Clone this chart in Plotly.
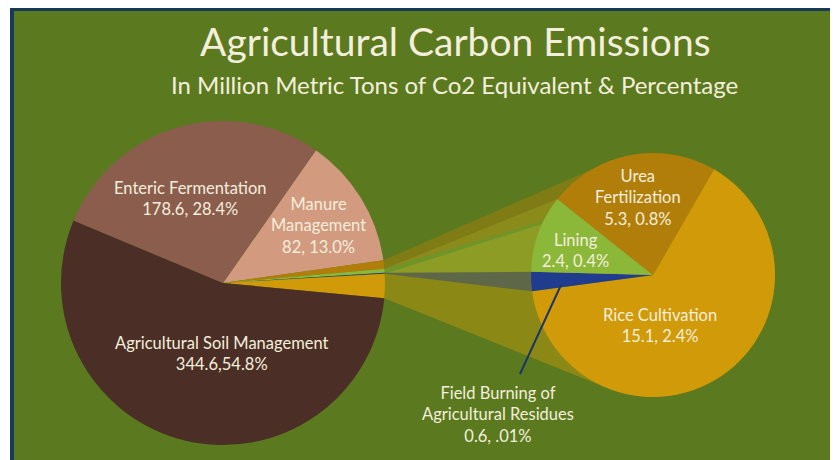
import numpy as np
import plotly.graph_objects as go

# ---------------- data ----------------
title_text = "Agricultural Carbon Emissions"
subtitle_text = "In Million Metric Tons of Co2 Equivalent & Percentage"

main_categories = ["Manure Management", "Agricultural Soil Management", "Enteric Fermentation"]
main_values = [82, 344.6, 178.6]
main_value_labels = ["82, 13.0%", "344.6,54.8%", "178.6, 28.4%"]

sub_categories = ["Rice Cultivation", "Field Burning of Agricultural Residues", "Lining", "Urea Fertilization"]
sub_values = [15.1, 0.6, 2.4, 5.3]
sub_value_labels = ["15.1, 2.4%", "0.6, .01%", "2.4, 0.4%", "5.3, 0.8%"]

# ---------------- style ----------------
# window is 838x460; the page body has an 8px margin, so the figure is 830x452
WIN_W, WIN_H = 838, 460
OFF = 8
W, H = WIN_W - OFF, WIN_H - OFF
BG = "#5b7a1f"
FRAME = "#163a58"
TXT = "#f4eedc"
FONT = "Lato"
colors = {
    "Manure Management": "#d29a7f",
    "Agricultural Soil Management": "#4b2e25",
    "Enteric Fermentation": "#8b5d4d",
    "Rice Cultivation": "#d19a08",
    "Field Burning of Agricultural Residues": "#1f3c8e",
    "Lining": "#8cb83a",
    "Urea Fertilization": "#b27e0a",
}

# pie geometry (window pixels)
L_CX, L_CY, L_R = 223, 283, 162
R_CX, R_CY, R_R = 653, 275, 122
L_ROT, R_ROT = 35, 30

left_labels = [main_categories[0]] + sub_categories[::-1] + main_categories[1:]
left_values = [main_values[0]] + sub_values[::-1] + main_values[1:]


def px(x):
    return (x - OFF) / W


def py(y):
    return 1 - (y - OFF) / H


def dom(cx, cy, r):
    return dict(x=[px(cx - r), px(cx + r)], y=[py(cy + r), py(cy - r)])


def arc(cx, cy, r, a0, a1, n=40):
    a = np.radians(np.linspace(a0, a1, n))
    return np.column_stack([cx + r * np.sin(a), cy - r * np.cos(a)])


def hull(pts):
    pts = sorted(set(map(tuple, np.round(pts, 3))))
    def cross(o, a, b):
        return (a[0] - o[0]) * (b[1] - o[1]) - (a[1] - o[1]) * (b[0] - o[0])
    lower, upper = [], []
    for p in pts:
        while len(lower) >= 2 and cross(lower[-2], lower[-1], p) <= 0:
            lower.pop()
        lower.append(p)
    for p in reversed(pts):
        while len(upper) >= 2 and cross(upper[-2], upper[-1], p) <= 0:
            upper.pop()
        upper.append(p)
    h = lower[:-1] + upper[:-1]
    h.append(h[0])
    return np.array(h)


def hex_rgba(h, a):
    h = h.lstrip("#")
    return f"rgba({int(h[0:2],16)},{int(h[2:4],16)},{int(h[4:6],16)},{a})"


left_total = sum(left_values)
left_span = {}
c = 0.0
for lab, v in zip(left_labels, left_values):
    left_span[lab] = (L_ROT + c / left_total * 360, L_ROT + (c + v) / left_total * 360)
    c += v
sub_total = sum(sub_values)
right_span = {}
c = 0.0
for lab, v in zip(sub_categories, sub_values):
    right_span[lab] = (R_ROT + c / sub_total * 360, R_ROT + (c + v) / sub_total * 360)
    c += v

fig = go.Figure()

# beams connecting the two pies
for lab in sub_categories:
    la = arc(L_CX, L_CY, L_R, *left_span[lab], n=10)
    ra = arc(R_CX, R_CY, R_R, *right_span[lab], n=120)
    hp = hull(np.vstack([la, ra]))
    fig.add_trace(go.Scatter(
        x=hp[:, 0], y=hp[:, 1], mode="lines", fill="toself",
        fillcolor=hex_rgba(colors[lab], 0.42), line=dict(width=0),
        hoverinfo="skip", showlegend=False))

fig.add_trace(go.Pie(
    labels=left_labels, values=left_values, sort=False, direction="clockwise",
    rotation=L_ROT, domain=dom(L_CX, L_CY, L_R), textinfo="none", hoverinfo="label+value",
    marker=dict(colors=[colors[l] for l in left_labels], line=dict(width=0)),
    showlegend=False))

fig.add_trace(go.Pie(
    labels=sub_categories, values=sub_values, sort=False, direction="clockwise",
    rotation=R_ROT, domain=dom(R_CX, R_CY, R_R), textinfo="none", hoverinfo="label+value",
    marker=dict(colors=[colors[l] for l in sub_categories], line=dict(width=0)),
    showlegend=False))

# labels (window pixel positions of the text block centres)
label_pos = {
    "Agricultural Soil Management": (222, 353, ["Agricultural Soil Management"]),
    "Enteric Fermentation": (190, 199, ["Enteric Fermentation"]),
    "Manure Management": (318, 225, ["Manure", "Management"]),
    "Rice Cultivation": (660, 325, ["Rice Cultivation"]),
    "Lining": (575, 250, ["Lining"]),
    "Urea Fertilization": (638, 197, ["Urea", "Fertilization"]),
    "Field Burning of Agricultural Residues": (498, 414, ["Field Burning of", "Agricultural Residues"]),
}
value_text = dict(zip(main_categories, main_value_labels))
value_text.update(dict(zip(sub_categories, sub_value_labels)))

annotations = []
for lab, (x, y, lines) in label_pos.items():
    annotations.append(dict(
        x=px(x), y=py(y), xref="paper", yref="paper", showarrow=False,
        xanchor="center", yanchor="middle",
        text="<br>".join(lines + [value_text[lab]]), align="center",
        font=dict(family=FONT, size=16.5, color=TXT)))

annotations.append(dict(x=px(455), y=py(41), xref="paper", yref="paper", showarrow=False,
                        xanchor="center", yanchor="middle",
                        text=title_text, font=dict(family=FONT, size=39, color=TXT)))
annotations.append(dict(x=px(454), y=py(84), xref="paper", yref="paper", showarrow=False,
                        xanchor="center", yanchor="middle",
                        text=subtitle_text, font=dict(family=FONT, size=24, color=TXT)))

shapes = [
    dict(type="rect", xref="paper", yref="paper", x0=px(12), x1=px(836.5), y0=-0.05, y1=py(9),
         fillcolor=BG, line=dict(color=FRAME, width=4), layer="below"),
    dict(type="line", xref="paper", yref="paper", x0=px(561), y0=py(285), x1=px(520), y1=py(374),
         line=dict(color="#1c3568", width=2), layer="above"),
]

fig.update_layout(
    width=W, height=H, margin=dict(l=0, r=0, t=0, b=0),
    paper_bgcolor="white", plot_bgcolor="rgba(0,0,0,0)",
    xaxis=dict(range=[OFF, WIN_W], visible=False, fixedrange=True),
    yaxis=dict(range=[WIN_H, OFF], visible=False, fixedrange=True),
    annotations=annotations, shapes=shapes, showlegend=False,
)

fig.write_html("out.html")
